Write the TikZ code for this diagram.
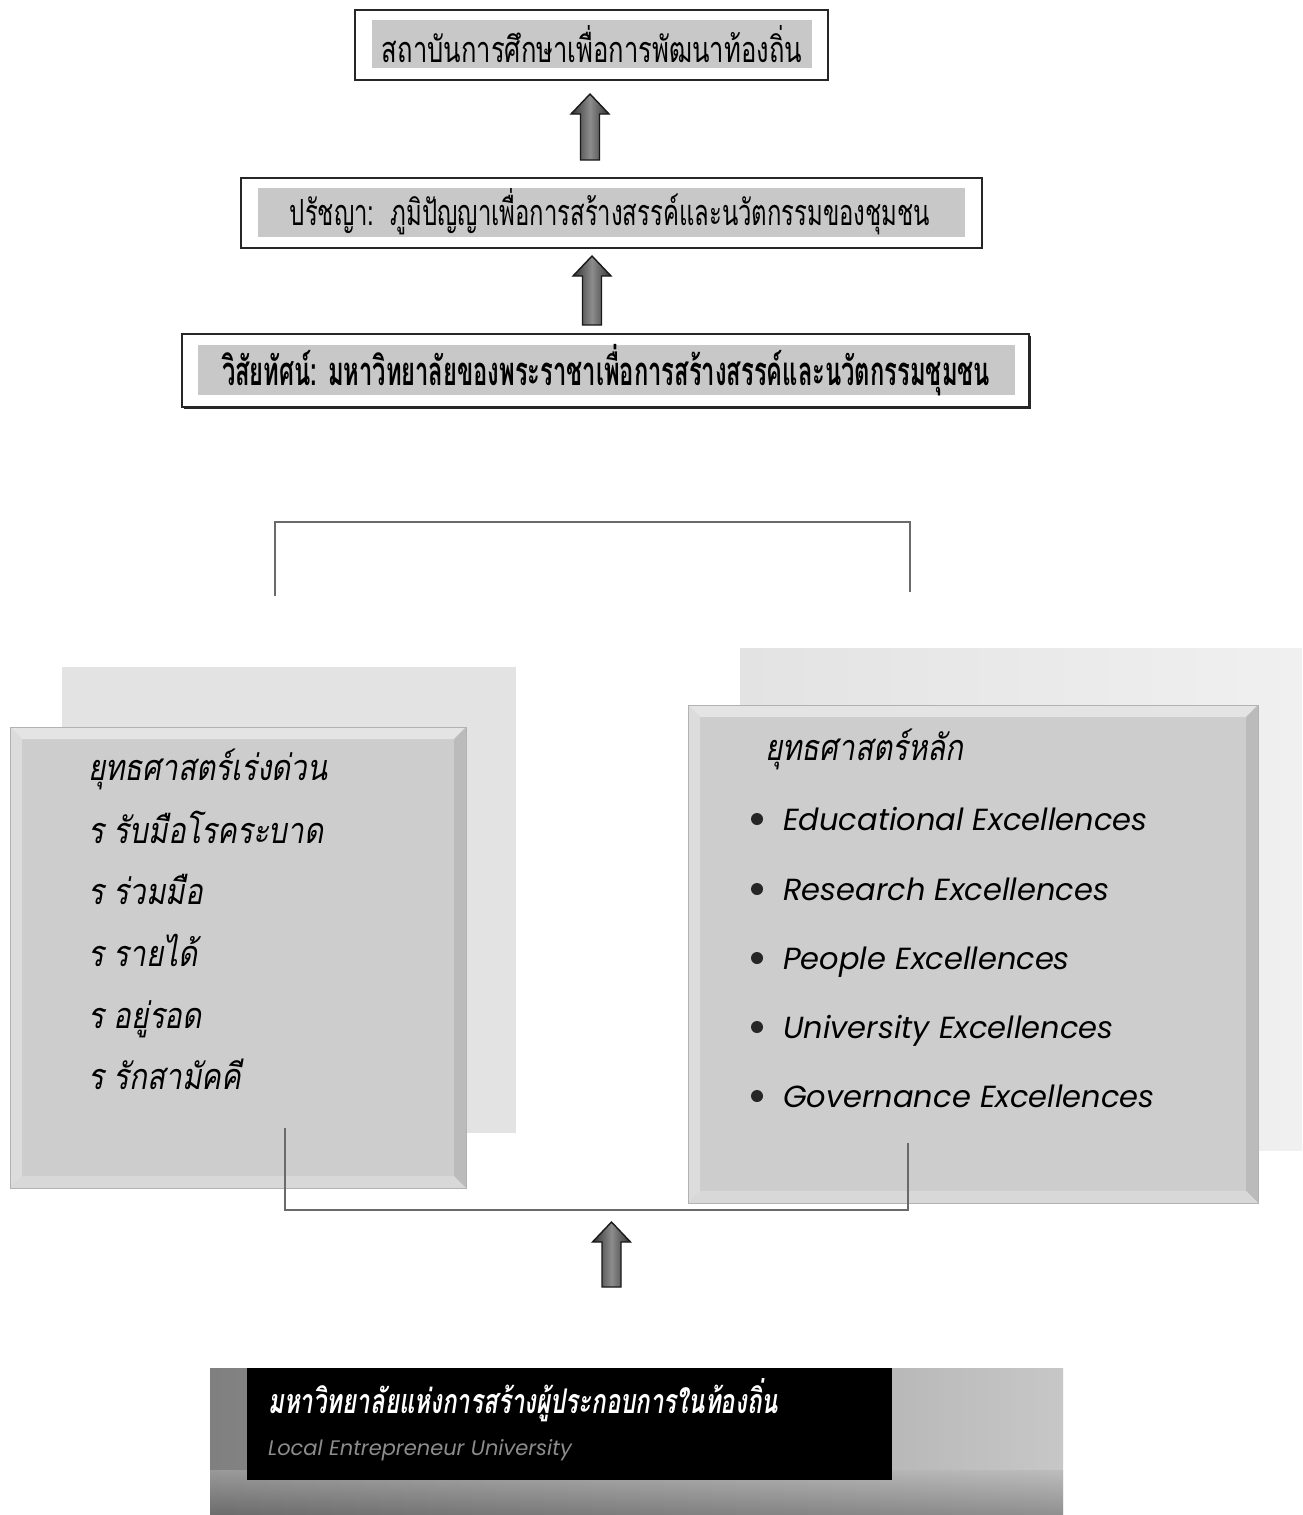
\documentclass[tikz,border=0pt]{standalone}
\usepackage{graphicx}
\usepackage{fontspec}
\usetikzlibrary{calc}
\newfontfamily\thai[Script=Thai]{Loma}
\newfontfamily\lat{Poppins}
\definecolor{innergray}{HTML}{C8C8C8}
\definecolor{backgray}{HTML}{E3E3E3}
\definecolor{backgrayR}{HTML}{F0F0F0}
\definecolor{frontgray}{HTML}{CDCDCD}
\definecolor{bevtop}{HTML}{E4E4E4}
\definecolor{bevleft}{HTML}{DCDCDC}
\definecolor{bevright}{HTML}{BBBBBB}
\definecolor{bevbot}{HTML}{D8D8D8}
\definecolor{connc}{HTML}{6A6A6A}
\definecolor{subgray}{HTML}{8C8C8C}
\newcommand{\fitw}[2]{\resizebox{#1pt}{\height}{#2}}
\newcommand{\thn}[1]{\scalebox{0.82}[1]{#1}}
\newcommand{\blockarrow}[2]{%
  \path[arrowfill] let \p1=(#1), \p2=(#2) in
    (\x1-9.5pt,\y1) -- (\x1-9.5pt,\y2-20pt) -- (\x1-19pt,\y2-20pt) -- (\x2,\y2)
    -- (\x1+19pt,\y2-20pt) -- (\x1+9.5pt,\y2-20pt) -- (\x1+9.5pt,\y1) -- cycle;}
\newcommand{\bevelbox}[4]{%
  \fill[frontgray] (#1,#2) rectangle (#3,#4);
  \fill[bevtop] (#1,#2) -- (#3,#2) -- (#3-12,#2+12) -- (#1+12,#2+12) -- cycle;
  \fill[bevleft] (#1,#2) -- (#1+12,#2+12) -- (#1+12,#4-12) -- (#1,#4) -- cycle;
  \fill[bevright] (#3,#2) -- (#3,#4) -- (#3-12,#4-12) -- (#3-12,#2+12) -- cycle;
  \fill[bevbot] (#1,#4) -- (#3,#4) -- (#3-12,#4-12) -- (#1+12,#4-12) -- cycle;
  \draw[black!30, line width=1] (#1,#2) rectangle (#3,#4);}
\begin{document}
\begin{tikzpicture}[x=1pt,y=-1pt,
  outerbox/.style={draw=black!85, line width=2, fill=white, inner sep=0},
  toptext/.style={inner sep=0, font=\thai\fontsize{36}{40}\selectfont},
  arrowfill/.style={draw=black!90, line width=1.4, left color=black!80, right color=black!80, middle color=black!45},
  conn/.style={draw=connc, line width=2},
  lefttext/.style={anchor=base west, inner sep=0, font=\thai\itshape\fontsize{36}{40}\selectfont},
  righttext/.style={anchor=base west, inner sep=0, font=\lat\itshape\fontsize{30.5}{36}\selectfont},
  dot/.style={circle, fill=black!85, inner sep=0, minimum size=12}]
\useasboundingbox (0,0) rectangle (1302,1515);
\fill[white] (0,0) rectangle (1302,1515);

% top boxes
\node[outerbox, minimum width=473, minimum height=70] (b1) at (591.5,45) {};
\fill[innergray] (372,20) rectangle (812,68);
\node[toptext] (t1) at (592,44) {\fitw{420}{สถาบันการศึกษาเพื่อการพัฒนาท้องถิ่น}};

\node[outerbox, minimum width=741, minimum height=70] (b2) at (611.5,213) {};
\fill[innergray] (258,188) rectangle (965,237);
\node[toptext] (t2) at (610,212) {\fitw{640}{ปรัชญา:\ \ ภูมิปัญญาเพื่อการสร้างสรรค์และนวัตกรรมของชุมชน}};

\node[outerbox, minimum width=847, minimum height=73] (b3) at (605.5,370.5) {};
\draw[black!85, line width=1.5] (184,408.5) -- (1030.5,408.5) -- (1030.5,336);
\fill[innergray] (198,345) rectangle (1015,395);
\node[toptext, font=\thai\bfseries\fontsize{40}{44}\selectfont] (t3) at (606,370) {\fitw{768}{วิสัยทัศน์: มหาวิทยาลัยของพระราชาเพื่อการสร้างสรรค์และนวัตกรรมชุมชน}};

% block arrows
\coordinate (a1s) at (590,160); \coordinate (a1e) at (590,94);
\coordinate (a2s) at (592,325); \coordinate (a2e) at (592,256);
\coordinate (a3s) at (611.5,1287); \coordinate (a3e) at (611.5,1222);
\blockarrow{a1s}{a1e}
\blockarrow{a2s}{a2e}
\blockarrow{a3s}{a3e}

% bracket
\coordinate (brL) at (275,596); \coordinate (brR) at (910,592);
\draw[conn] (brL) -- ++(0,-74) -| (brR);

% left panel
\fill[backgray] (62,667) rectangle (516,1133);
\bevelbox{10}{727}{466}{1188}
\node[lefttext] (lh) at (88,780) {\thn{ยุทธศาสตร์เร่งด่วน}};
\node[lefttext] (l1) at (88,843) {\thn{ร รับมือโรคระบาด}};
\node[lefttext] (l2) at (88,904) {\thn{ร ร่วมมือ}};
\node[lefttext] (l3) at (88,966) {\thn{ร รายได้}};
\node[lefttext] (l4) at (88,1028) {\thn{ร อยู่รอด}};
\node[lefttext] (l5) at (88,1089) {\thn{ร รักสามัคคี}};

% right panel
\shade[left color=backgray, right color=backgrayR] (740,648) rectangle (1302,1150);
\bevelbox{688}{705}{1258}{1203}
\node[lefttext] (rh) at (765,760) {\thn{ยุทธศาสตร์หลัก}};
\foreach \yy/\nm/\txt in {830/r1/Educational Excellences, 900/r2/Research Excellences, 969/r3/People Excellences, 1038/r4/University Excellences, 1107/r5/Governance Excellences}{
  \node[dot] (d\nm) at (757,\yy-11) {};
  \node[righttext] (\nm) at (783,\yy) {\txt};
}

% lower connector
\coordinate (Lc) at (285,1128); \coordinate (Rc) at (908,1143);
\draw[conn] (Lc) -- ++(0,82) -| (Rc);

% bottom panel
\shade[left color=black!50, right color=black!22] (210,1368) rectangle (1063,1515);
\shade[top color=black!30, bottom color=black!65, opacity=0.5] (210,1470) rectangle (1063,1515);
\node[fill=black, minimum width=645, minimum height=112, inner sep=0] (bk) at (569.5,1424) {};
\node[anchor=base west, inner sep=0, text=white, font=\thai\bfseries\itshape\fontsize{34}{40}\selectfont] (bt1) at (268,1413) {\fitw{510}{มหาวิทยาลัยแห่งการสร้างผู้ประกอบการในท้องถิ่น}};
\node[anchor=base west, inner sep=0, text=subgray, font=\lat\itshape\fontsize{21}{24}\selectfont] (bt2) at (268,1455) {Local Entrepreneur University};
\end{tikzpicture}
\end{document}
